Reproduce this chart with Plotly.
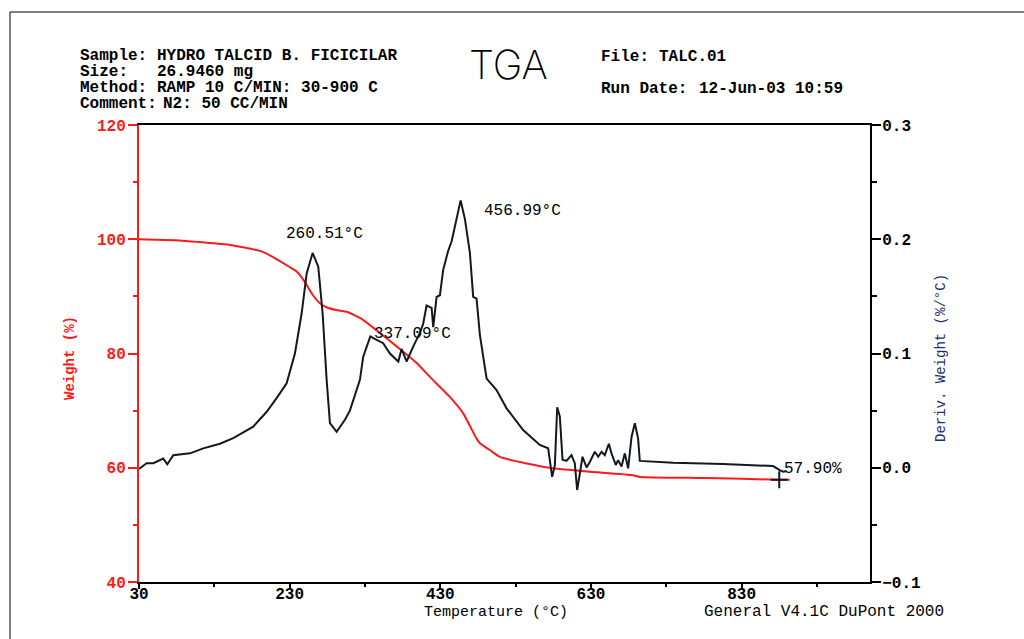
import plotly.graph_objects as go

# ---- Weight (%) versus temperature (°C) ----
temp_w = [30, 84, 111, 150.8, 194.6, 230.4, 239.7, 250.3, 261, 270.2, 279, 292, 306,
          327.3, 349.8, 372.4, 399, 416.2, 442.7, 460, 478.2, 482.6, 495.8, 509,
          544.9, 579.4, 628.5, 685.6, 694.9, 783.8, 880, 894]
weight = [100.0, 99.8, 99.5, 99.0, 97.8, 95.1, 94.3, 92.5, 90.2, 88.8, 88.1, 87.6, 87.3,
          85.9, 83.6, 81.2, 78.3, 75.9, 72.4, 69.6, 65.1, 64.3, 63.1, 61.9,
          60.75, 59.9, 59.3, 58.7, 58.4, 58.2, 57.9, 57.88]

# ---- Derivative weight (%/°C) versus temperature (°C) ----
temp_d = [30, 40.2, 49, 62.2, 67.6, 75.5, 97.7, 115.3, 137.5, 155.1, 181.7, 199.5,
          212.7, 226, 237, 245.9, 252.6, 260.5, 268, 273.8, 279.1, 283.5, 292.4,
          303.4, 310, 323.3, 327.6, 337.1, 345.5, 354.2, 363.1, 372, 374.3, 378.6,
          385.3, 394, 402.9, 407.3, 411.8, 418.5, 420.6, 425.1, 429.5, 433.8, 440.5,
          445, 451.6, 457, 462.6, 469.3, 473.7, 478.2, 482.6, 491.5, 504.7, 518,
          540, 562.2, 573.2, 575.5, 578.5, 582.1, 585.2, 588.7, 592.3, 597.6, 604.2,
          608.6, 611.7, 615.3, 618.8, 624.2, 628.5, 635.2, 639.6, 644.1, 648.4,
          653.8, 657.3, 663, 666.1, 670.6, 675, 679.4, 683.9, 688.3, 692.6, 694.9,
          739.1, 805.4, 871.8, 880.7, 885.1, 888.7]
deriv = [-0.001, 0.004, 0.004, 0.008, 0.003, 0.011, 0.0126, 0.017, 0.021, 0.026, 0.036,
         0.049, 0.061, 0.074, 0.100, 0.135, 0.170, 0.188, 0.176, 0.135, 0.077, 0.039,
         0.0315, 0.042, 0.050, 0.077, 0.097, 0.115, 0.112, 0.109, 0.100, 0.094, 0.093,
         0.104, 0.093, 0.106, 0.118, 0.126, 0.142, 0.140, 0.123, 0.1496, 0.151, 0.173,
         0.190, 0.198, 0.217, 0.234, 0.218, 0.188, 0.1496, 0.148, 0.116, 0.078, 0.068,
         0.052, 0.033, 0.020, 0.017, 0.004, -0.008, 0.002, 0.053, 0.045, 0.007, 0.006,
         0.011, 0.004, -0.0195, -0.005, 0.0096, 0.0003, 0.005, 0.014, 0.0096, 0.014,
         0.011, 0.021, 0.0126, 0.0024, 0.0067, 0.001, 0.0126, -0.0005, 0.027, 0.039,
         0.0257, 0.006, 0.0044, 0.0032, 0.0015, -0.002, -0.0035, -0.003]

x_ticks = [30, 230, 430, 630, 830]
w_ticks = [40, 60, 80, 100, 120]
d_ticks = [-0.1, 0.0, 0.1, 0.2, 0.3]

# residue point and peak labels
residue_t, residue_w = 880, 57.90
peaks = [(260.51, 0.188), (337.09, 0.115), (456.99, 0.234)]
peak_shift = {260.51: (12, 8), 337.09: (42, -9), 456.99: (62, -22)}

W, H = 1024, 639
L, R, T, B = 139, 870, 125, 582
MONO = "Liberation Mono"
RED = "#ff1a1a"
INK = "#111820"


def px(x):
    return (x - L) / (R - L)


def py(y):
    return (B - y) / (B - T)


fig = go.Figure()
fig.add_trace(go.Scatter(x=temp_w, y=weight, mode="lines", yaxis="y",
                         line=dict(color=RED, width=2, shape="spline", smoothing=0.5),
                         hoverinfo="skip"))
fig.add_trace(go.Scatter(x=temp_d, y=deriv, mode="lines", yaxis="y2",
                         line=dict(color=INK, width=2), hoverinfo="skip"))
fig.add_trace(go.Scatter(x=[residue_t], y=[residue_w], mode="markers", yaxis="y",
                         marker=dict(symbol="cross-thin", size=12,
                                     line=dict(color=INK, width=2)),
                         hoverinfo="skip"))

ann = []


def text(x, y, s, size=16, color="black", anchor="left", angle=0, family=MONO,
         weight="bold"):
    ann.append(dict(x=px(x), y=py(y), xref="paper", yref="paper", text=s,
                    showarrow=False, xanchor=anchor, yanchor="middle",
                    textangle=angle,
                    font=dict(family=family, size=size, color=color, weight=weight)))


# header block
text(78, 56, "Sample:")
text(155, 56, "HYDRO TALCID B. FICICILAR")
text(78, 72, "Size:")
text(155, 72, "26.9460 mg")
text(78, 88, "Method:")
text(155, 88, "RAMP 10 C/MIN: 30-900 C")
text(78, 104, "Comment:")
text(161, 104, "N2: 50 CC/MIN")
text(599, 57, "File:")
text(657, 57, "TALC.01")
text(599, 89, "Run Date:")
text(697, 89, "12-Jun-03 10:59")
text(508, 64, "TGA", size=40, anchor="center", family="Inter, DejaVu Sans",
     weight=200)

# axis titles and footer
text(70, 358, "Weight (%)", size=14, color=RED, anchor="center", angle=-90)
text(941, 358, "Deriv. Weight (%/°C)", size=14, color="#1c2f6e", anchor="center",
     angle=-90, weight="normal")
text(496, 612, "Temperature (°C)", size=15, anchor="center", weight="normal")
text(702, 612, "General V4.1C DuPont 2000", size=16, weight="normal")

# peak and residue labels
for t, d in peaks:
    dx, dy = peak_shift[t]
    ann.append(dict(x=t, y=d, xref="x", yref="y2", text=f"{t:.2f}°C",
                    showarrow=False, xanchor="center", yanchor="bottom",
                    xshift=dx, yshift=dy,
                    font=dict(family=MONO, size=16, color="black")))
ann.append(dict(x=residue_t, y=residue_w, xref="x", yref="y", text=f"{residue_w:.2f}%",
                showarrow=False, xanchor="left", yanchor="middle", xshift=3, yshift=11,
                font=dict(family=MONO, size=16, color="black")))

# page border
shapes = [
    dict(type="line", xref="paper", yref="paper", x0=px(10), x1=px(1024), y0=py(12),
         y1=py(12), line=dict(color="black", width=1)),
    dict(type="line", xref="paper", yref="paper", x0=px(10), x1=px(10), y0=py(12),
         y1=py(639), line=dict(color="black", width=1)),
]

tickfont = dict(family=MONO, size=16, color="black", weight="bold")

fig.update_layout(
    width=W, height=H, autosize=False,
    margin=dict(l=L, r=W - R, t=T, b=H - B, pad=0),
    paper_bgcolor="white", plot_bgcolor="white",
    showlegend=False,
    annotations=ann, shapes=shapes,
    xaxis=dict(range=[30, 1000.5], tickvals=x_ticks, ticks="outside", ticklen=5,
               tickwidth=1.5, tickcolor="black", showline=True, linecolor="black",
               linewidth=2, mirror=True, showgrid=False, zeroline=False,
               tickfont=tickfont, ticklabelstandoff=-9,
               minor=dict(tick0=30, dtick=100, ticks="outside", ticklen=3,
                          tickcolor="black", tickwidth=1.5)),
    yaxis=dict(range=[40, 120], tickvals=w_ticks, ticks="outside", ticklen=9,
               tickwidth=1.5, tickcolor=RED, showline=True, linecolor=RED,
               linewidth=2, showgrid=False, zeroline=False,
               tickfont=dict(family=MONO, size=16, color=RED, weight="bold"),
               ticklabelstandoff=-1,
               minor=dict(dtick=10, ticks="outside", ticklen=4, tickcolor=RED,
                          tickwidth=1.5)),
    yaxis2=dict(range=[-0.1, 0.3], tickvals=d_ticks, tickformat=".1f",
                overlaying="y", side="right", ticks="outside", ticklen=9,
                tickwidth=1.5, tickcolor="black", showline=True, linecolor="black",
                linewidth=2, showgrid=False, zeroline=False, tickfont=tickfont,
                ticklabelstandoff=-2,
                minor=dict(dtick=0.05, ticks="outside", ticklen=5,
                           tickcolor="black", tickwidth=1.5)),
)

fig.write_html("out.html")
